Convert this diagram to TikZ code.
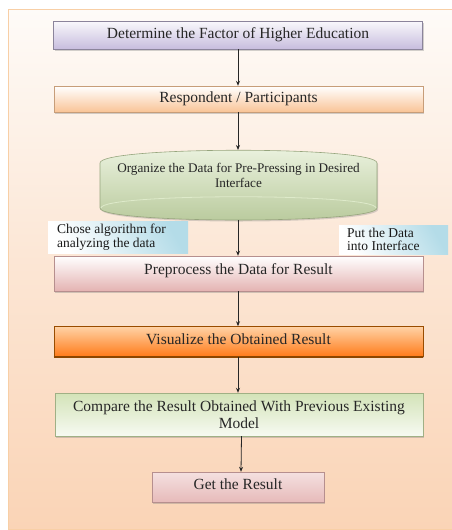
\documentclass[tikz,border=0pt]{standalone}
\usepackage{fontspec}
\setmainfont{Liberation Serif}
\usetikzlibrary{arrows.meta,shadows}
\definecolor{bgtop}{HTML}{FEFBF8}
\definecolor{bgbot}{HTML}{FAD4B6}
\definecolor{bgline}{HTML}{F8CFA6}
\definecolor{cpurple}{HTML}{C7BDDE}
\definecolor{corange}{HTML}{F9C497}
\definecolor{cpink}{HTML}{E4B3B2}
\definecolor{cgreen}{HTML}{C8DCA6}
\definecolor{lblue}{HTML}{B4DCE8}
\begin{document}
\begin{tikzpicture}[x=1pt,y=-1pt,
  box/.style={draw, rectangle, minimum width=369pt, inner sep=2pt, align=center,
     font=\fontsize{15.5}{16.5}\selectfont, text=black!85,
     drop shadow={shadow xshift=1.2pt, shadow yshift=-1.5pt, opacity=0.35}},
  side/.style={rectangle, inner sep=0pt, align=left, font=\fontsize{13.5}{13.5}\selectfont, text=black!90},
  arr/.style={-{Stealth[length=5pt,width=4pt]}, line width=0.8pt, black!85}
]
\useasboundingbox (0,0) rectangle (451,530);
% background
\shade[top color=bgtop, bottom color=bgbot, middle color=bgtop!45!bgbot] (8,9) rectangle (452,529);
\draw[bgline, line width=1pt] (452,9) -- (8,9) -- (8,529) -- (452,529);

\node[box, draw=cpurple!70!black, top color=cpurple!10, bottom color=cpurple, minimum height=28pt, text depth=4.5pt] (b1) at (238,35) {Determine the Factor of Higher Education};
\node[box, draw=corange!80!black, top color=white, bottom color=corange, minimum height=26pt, text depth=4.5pt] (b2) at (238.5,99) {Respondent / Participants};

% cylinder
\coordinate (cyltop) at (238,150);
\coordinate (cylbot) at (238,220);
\shade[top color=cgreen!35, bottom color=cgreen!90!black!95, draw=cgreen!75!black, line width=0.6pt,
  drop shadow={shadow xshift=1.2pt, shadow yshift=-1.5pt, opacity=0.3}]
  (100,208) -- (100,163) .. controls (100,146) and (377,146) .. (377,163) -- (377,208)
  .. controls (377,224) and (100,224) .. (100,208) -- cycle;
\draw[cgreen!60, line width=0.8pt] (101,208) .. controls (101,193) and (376,193) .. (376,208);
\node[align=center, font=\fontsize{13.2}{15}\selectfont, text=black!85] (cyl) at (238.5,175) {Organize the Data for Pre-Pressing in Desired\\Interface};

\node[box, draw=cpink!80!black, top color=white, bottom color=cpink, minimum height=35pt, text depth=8pt] (b3) at (238.5,273.5) {Preprocess the Data for Result};

\node[box, draw=orange!60!black, top color=orange!35!white, bottom color=orange!85!red!90, minimum height=30pt, line width=0.6pt, text depth=5pt] (b4) at (238.5,341.5) {Visualize the Obtained Result};
\draw[orange!55!black, line width=1.5pt] (b4.south west) -- (b4.south east);

\node[box, draw=cgreen!80!black, top color=cgreen!80, bottom color=cgreen!15, minimum height=43pt, minimum width=368pt] (b5) at (239,414.5) {Compare the Result Obtained With Previous Existing\\Model};

\node[box, draw=cpink!80!black, top color=cpink!40, bottom color=cpink!90, minimum width=172pt, minimum height=30pt, text depth=6pt] (b6) at (238,487) {Get the Result};

% side labels
\shade[shading=axis, left color=white, right color=lblue, shading angle=120] (48,221) rectangle (188,253);
\node[side, anchor=north west] (l1) at (57,224) {Chose algorithm for\\analyzing the data};
\shade[shading=axis, left color=white, right color=lblue, shading angle=120] (339,225) rectangle (448,254);
\node[side, anchor=north west] (l2) at (347,227.5) {Put the Data\\into Interface};

% arrows
\draw[arr] (b1.south) -- (b2.north -| b1.south);
\draw[arr] (b2.south -| cyltop) -- (cyltop);
\draw[arr] (cylbot) -- (b3.north -| cylbot);
\draw[arr] (b3.south -| cylbot) -- (b4.north -| cylbot);
\draw[arr] (b4.south -| cylbot) -- (b5.north -| cylbot);
\draw[arr] ([xshift=2.5pt]b5.south) -- ([xshift=3pt]b6.north);
\end{tikzpicture}
\end{document}
